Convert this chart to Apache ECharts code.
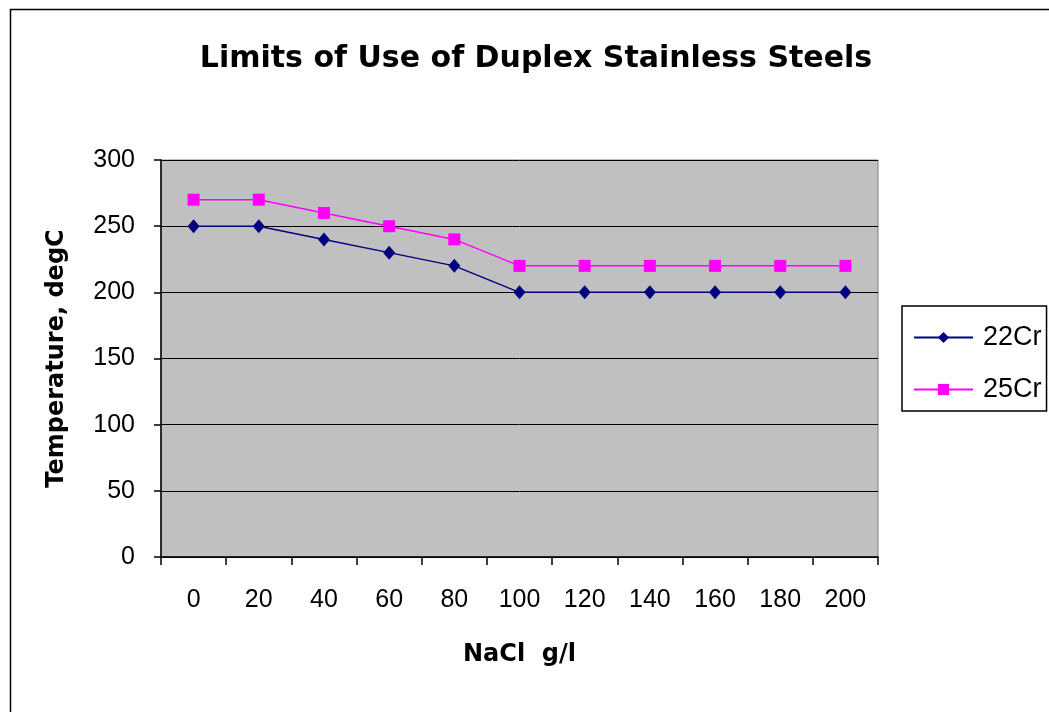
<!DOCTYPE html>
<html>
<head>
<meta charset="utf-8">
<script src="https://cdn.jsdelivr.net/npm/echarts@6/dist/echarts.min.js"></script>
<style>
  html, body { margin: 0; padding: 0; background: #fff; }
  #main { width: 1049px; height: 712px; }
</style>
</head>
<body>
<div id="main"></div>
<script>
// data
var nacl = ['0', '20', '40', '60', '80', '100', '120', '140', '160', '180', '200'];
var cr22 = [250, 250, 240, 230, 220, 200, 200, 200, 200, 200, 200];
var cr25 = [270, 270, 260, 250, 240, 220, 220, 220, 220, 220, 220];

var myChart = echarts.init(document.getElementById('main'));

var font = 'Liberation Sans, Arial, sans-serif';
var boldFont = 'DejaVu Sans, Arial, sans-serif';

var option = {
    animation: false,
    backgroundColor: '#fff',
    title: {
        text: 'Limits of Use of Duplex Stainless Steels',
        left: 531,
        textAlign: 'center',
        top: 39,
        textStyle: { fontFamily: boldFont, fontSize: 30, fontWeight: 'bold', color: '#000' }
    },
    graphic: [{
        type: 'rect',
        shape: { x: 10.5, y: 9.5, width: 1100, height: 800 },
        style: { fill: 'none', stroke: '#000', lineWidth: 1.5 },
        silent: true
    }],
    grid: {
        show: true,
        left: 161,
        right: 171,
        top: 160,
        bottom: 155,
        backgroundColor: '#c0c0c0',
        borderColor: '#808080',
        borderWidth: 1
    },
    legend: {
        orient: 'vertical',
        left: 902,
        top: 306,
        padding: [18, 5, 8, 11],
        itemGap: 25,
        itemWidth: 59,
        itemHeight: 14,
        borderColor: '#000',
        borderWidth: 1.5,
        backgroundColor: '#fff',
        textStyle: { fontFamily: font, fontSize: 27, color: '#000', padding: [0, 0, 0, 5] },
        data: ['22Cr', '25Cr']
    },
    xAxis: {
        type: 'category',
        data: nacl,
        boundaryGap: true,
        name: 'NaCl  g/l',
        nameLocation: 'middle',
        nameGap: 86,
        nameTextStyle: { fontFamily: boldFont, fontSize: 24, fontWeight: 'bold', color: '#000' },
        axisLine: { lineStyle: { color: '#000', width: 1.5 } },
        axisTick: { show: true, length: 8, interval: 0, lineStyle: { color: '#000', width: 1.5 } },
        axisLabel: { interval: 0, margin: 31, fontFamily: font, fontSize: 25, color: '#000' },
        splitLine: { show: false }
    },
    yAxis: {
        type: 'value',
        min: 0,
        max: 300,
        interval: 50,
        name: 'Temperature, degC',
        nameLocation: 'middle',
        nameGap: 92,
        nameTextStyle: { fontFamily: boldFont, fontSize: 24, fontWeight: 'bold', color: '#000' },
        axisLine: { show: true, lineStyle: { color: '#000', width: 1.5 } },
        axisTick: { show: true, length: 7, lineStyle: { color: '#000', width: 1.5 } },
        axisLabel: { margin: 26, fontFamily: font, fontSize: 25, color: '#000' },
        splitLine: { show: true, lineStyle: { color: '#000', width: 1 } }
    },
    series: [
        {
            name: '22Cr',
            type: 'line',
            data: cr22,
            symbol: 'diamond',
            symbolSize: [12, 14],
            lineStyle: { color: '#000080', width: 1.5 },
            itemStyle: { color: '#000080' }
        },
        {
            name: '25Cr',
            type: 'line',
            data: cr25,
            symbol: 'rect',
            symbolSize: 12,
            lineStyle: { color: '#ff00ff', width: 1.5 },
            itemStyle: { color: '#ff00ff' }
        }
    ]
};

myChart.setOption(option, true);
</script>
</body>
</html>
